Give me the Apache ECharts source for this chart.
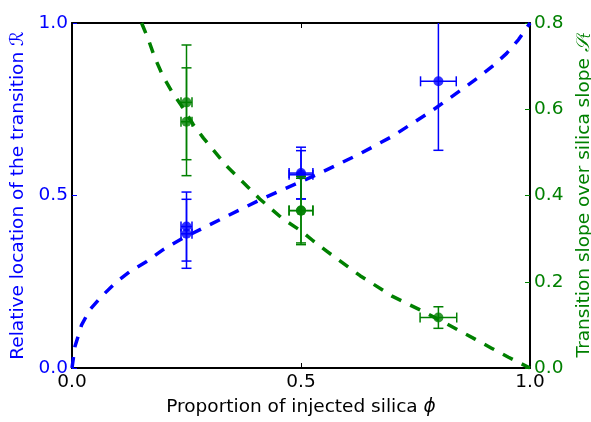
<!DOCTYPE html>
<html>
<head>
<meta charset="utf-8">
<script src="https://cdn.jsdelivr.net/npm/echarts@6/dist/echarts.min.js"></script>
<style>
  html, body { margin: 0; padding: 0; background: #fff; }
  #chart { width: 591px; height: 422px; }
</style>
</head>
<body>
<div id="chart"></div>
<script>
// tick labels
const xTicks = [0, 0.5, 1];
const leftTicks = [0, 0.5, 1];
const rightTicks = [0, 0.2, 0.4, 0.6, 0.8];

// blue: relative location of the transition (left axis)
const phiBlue = [0.25, 0.25, 0.5, 0.5, 0.8];
const relLoc = [0.41, 0.389, 0.56, 0.565, 0.831];
const relLocErr = [0.1, 0.1, 0.07, 0.075, 0.2];
const phiBlueErr = [0.012, 0.012, 0.026, 0.026, 0.039];

// green: transition slope over silica slope (right axis)
const phiGreen = [0.25, 0.25, 0.5, 0.5, 0.8];
const slopeRatio = [0.616, 0.571, 0.365, 0.365, 0.117];
const slopeRatioErr = [0.133, 0.125, 0.079, 0.075, 0.025];
const phiGreenErr = [0.012, 0.012, 0.026, 0.026, 0.04];

// dashed model curves
const curveBlueX = [0, 0.003, 0.0066, 0.021, 0.039, 0.065, 0.094, 0.127, 0.163, 0.199, 0.243,
  0.338, 0.41, 0.46, 0.5, 0.537, 0.629, 0.70, 0.785, 0.818, 0.854, 0.891, 0.92, 0.949, 0.975, 1.0];
const curveBlueY = [0, 0.005, 0.063, 0.125, 0.169, 0.208, 0.246, 0.28, 0.309, 0.343, 0.377,
  0.44, 0.487, 0.517, 0.54, 0.562, 0.621, 0.672, 0.745, 0.776, 0.81, 0.846, 0.877, 0.912, 0.952, 1.0];

const curveGreenX = [0.152, 0.167, 0.181, 0.199, 0.218, 0.24, 0.265, 0.287, 0.338, 0.41, 0.46,
  0.5, 0.527, 0.556, 0.629, 0.70, 0.767, 0.803, 0.843, 0.88, 0.916, 0.953, 1.0];
const curveGreenY = [0.8, 0.761, 0.719, 0.676, 0.641, 0.607, 0.564, 0.533, 0.468, 0.392, 0.346,
  0.318, 0.2945, 0.271, 0.214, 0.166, 0.131, 0.111, 0.088, 0.067, 0.046, 0.025, 0];

const BLUE = '#0000ff';
const GREEN = '#008000';
const FONT = 'DejaVu Sans';
const FS = 18.5;

function zip(a, b) { return a.map((v, i) => [v, b[i]]); }

// error bar items: [x, y, xerr, yerr]
function errItems(x, y, xe, ye) { return x.map((v, i) => [v, y[i], xe[i], ye[i]]); }

function errorBarRender(color) {
  return function (params, api) {
    const x = api.value(0), y = api.value(1), xe = api.value(2), ye = api.value(3);
    const top = api.coord([x, y + ye]);
    const bot = api.coord([x, y - ye]);
    const lft = api.coord([x - xe, y]);
    const rgt = api.coord([x + xe, y]);
    const cap = 5;
    const style = { stroke: color, lineWidth: 1.5 };
    const line = (x1, y1, x2, y2) => ({ type: 'line', shape: { x1, y1, x2, y2 }, style });
    return {
      type: 'group',
      children: [
        line(top[0], top[1], bot[0], bot[1]),
        line(top[0] - cap, top[1], top[0] + cap, top[1]),
        line(bot[0] - cap, bot[1], bot[0] + cap, bot[1]),
        line(lft[0], lft[1], rgt[0], rgt[1]),
        line(lft[0], lft[1] - cap, lft[0], lft[1] + cap),
        line(rgt[0], rgt[1] - cap, rgt[0], rgt[1] + cap)
      ]
    };
  };
}

const chart = echarts.init(document.getElementById('chart'), null, { renderer: 'canvas' });

const tickFmt = v => v.toFixed(1);

chart.setOption({
  animation: false,
  backgroundColor: '#fff',
  grid: { left: 72, right: 61, top: 23, bottom: 54, containLabel: false, outerBoundsMode: 'none' },
  xAxis: [{
    type: 'value', min: 0, max: 1, interval: 0.5,
    name: 'Proportion of injected silica {i|ϕ}',
    nameLocation: 'middle', nameGap: 30,
    nameTextStyle: { color: '#000', fontFamily: FONT, fontSize: FS,
      rich: { i: { fontStyle: 'italic', fontFamily: FONT, fontSize: FS, color: '#000' } } },
    axisLine: { show: true, onZero: false, lineStyle: { color: '#000', width: 2 } },
    axisTick: { show: true, inside: true, length: 5, lineStyle: { color: '#000' } },
    axisLabel: { color: '#000', fontFamily: FONT, fontSize: FS, margin: 5, formatter: tickFmt },
    splitLine: { show: false }
  }, {
    type: 'value', min: 0, max: 1, interval: 0.5, position: 'top',
    axisLine: { show: true, onZero: false, lineStyle: { color: '#000', width: 2 } },
    axisTick: { show: true, inside: true, length: 5, lineStyle: { color: '#000' } },
    axisLabel: { show: false },
    splitLine: { show: false }
  }],
  yAxis: [{
    type: 'value', min: 0, max: 1, interval: 0.5, position: 'left',
    name: 'Relative location of the transition ℛ',
    nameLocation: 'middle', nameGap: 44, nameRotate: 90,
    nameTextStyle: { color: BLUE, fontFamily: FONT, fontSize: FS },
    axisLine: { show: true, onZero: false, lineStyle: { color: '#000', width: 2 } },
    axisTick: { show: true, inside: true, length: 5, lineStyle: { color: BLUE } },
    axisLabel: { color: BLUE, fontFamily: FONT, fontSize: FS, margin: 4, formatter: tickFmt },
    splitLine: { show: false }
  }, {
    type: 'value', min: 0, max: 0.8, interval: 0.2, position: 'right',
    name: '{n|Transition slope over silica slope }{m|𝒮}{s|t}',
    nameLocation: 'middle', nameGap: 41, nameRotate: 90,
    nameTextStyle: { color: GREEN, fontFamily: FONT, fontSize: FS,
      rich: {
        n: { color: GREEN, fontFamily: FONT, fontSize: FS },
        m: { color: GREEN, fontFamily: FONT, fontSize: FS, fontStyle: 'italic' },
        s: { color: GREEN, fontFamily: FONT, fontSize: 12, fontStyle: 'italic', verticalAlign: 'bottom', padding: [7, 0, 0, 0] }
      } },
    axisLine: { show: true, onZero: false, lineStyle: { color: '#000', width: 2 } },
    axisTick: { show: true, inside: true, length: 5, lineStyle: { color: GREEN } },
    axisLabel: { color: GREEN, fontFamily: FONT, fontSize: FS, margin: 4, formatter: tickFmt },
    splitLine: { show: false }
  }],
  series: [{
    type: 'line', xAxisIndex: 0, yAxisIndex: 0,
    data: zip(curveBlueX, curveBlueY),
    showSymbol: false, smooth: false, clip: true, z: 2,
    lineStyle: { color: BLUE, width: 3.5, type: [11, 10], cap: 'butt', join: 'round' }
  }, {
    type: 'custom', xAxisIndex: 0, yAxisIndex: 0,
    data: errItems(phiBlue, relLoc, phiBlueErr, relLocErr),
    renderItem: errorBarRender(BLUE), clip: true, z: 3
  }, {
    type: 'scatter', xAxisIndex: 0, yAxisIndex: 0,
    data: zip(phiBlue, relLoc),
    symbol: 'circle', symbolSize: 10, itemStyle: { color: BLUE }, z: 4
  }, {
    type: 'line', xAxisIndex: 0, yAxisIndex: 1,
    data: zip(curveGreenX, curveGreenY),
    showSymbol: false, smooth: false, clip: true, z: 5,
    lineStyle: { color: GREEN, width: 3.5, type: [11, 10], cap: 'butt', join: 'round' }
  }, {
    type: 'custom', xAxisIndex: 0, yAxisIndex: 1,
    data: errItems(phiGreen, slopeRatio, phiGreenErr, slopeRatioErr),
    renderItem: errorBarRender(GREEN), clip: true, z: 6
  }, {
    type: 'scatter', xAxisIndex: 0, yAxisIndex: 1,
    data: zip(phiGreen, slopeRatio),
    symbol: 'circle', symbolSize: 10, itemStyle: { color: GREEN }, z: 7
  }]
});
</script>
</body>
</html>
